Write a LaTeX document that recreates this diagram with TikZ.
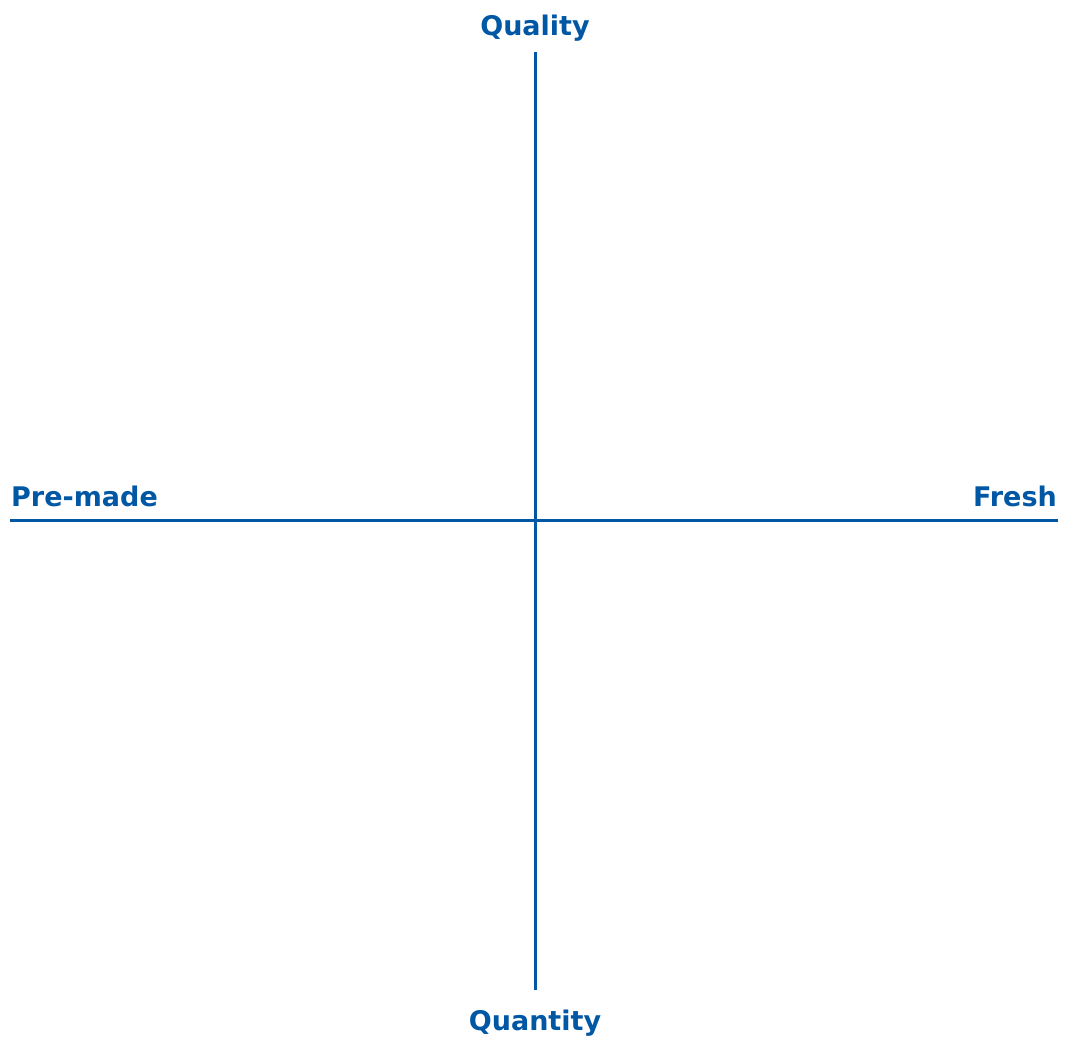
\documentclass[tikz,border=0pt]{standalone}
\usepackage{fontspec}
\setmainfont{DejaVu Sans}
\definecolor{axisblue}{HTML}{0057A4}
\tikzset{
  axis/.style={draw=axisblue, line width=3pt},
  lbl/.style={text=axisblue, font=\fontsize{27}{31}\selectfont\bfseries, inner sep=0pt}
}
\begin{document}
\begin{tikzpicture}[x=1pt,y=-1pt]
                    \useasboundingbox (0,0) rectangle (1076,1036);
                    \coordinate (top)    at (535,52);
                    \coordinate (bottom) at (535,990);
                    \coordinate (left)   at (10,520);
                    \coordinate (right)  at (1058,520);
                    \draw[axis] (top) -- (bottom);
                    \draw[axis] (left) -- (right);
                    \node[lbl, anchor=base]      (quality)  at (535,35)   {Quality};
                    \node[lbl, anchor=base]      (quantity) at (535,1030) {Quantity};
                    \node[lbl, anchor=base west] (premade)  at (11,506)   {Pre-made};
                    \node[lbl, anchor=base east] (fresh)    at (1057,506) {Fresh};
                \end{tikzpicture}
\end{document}
